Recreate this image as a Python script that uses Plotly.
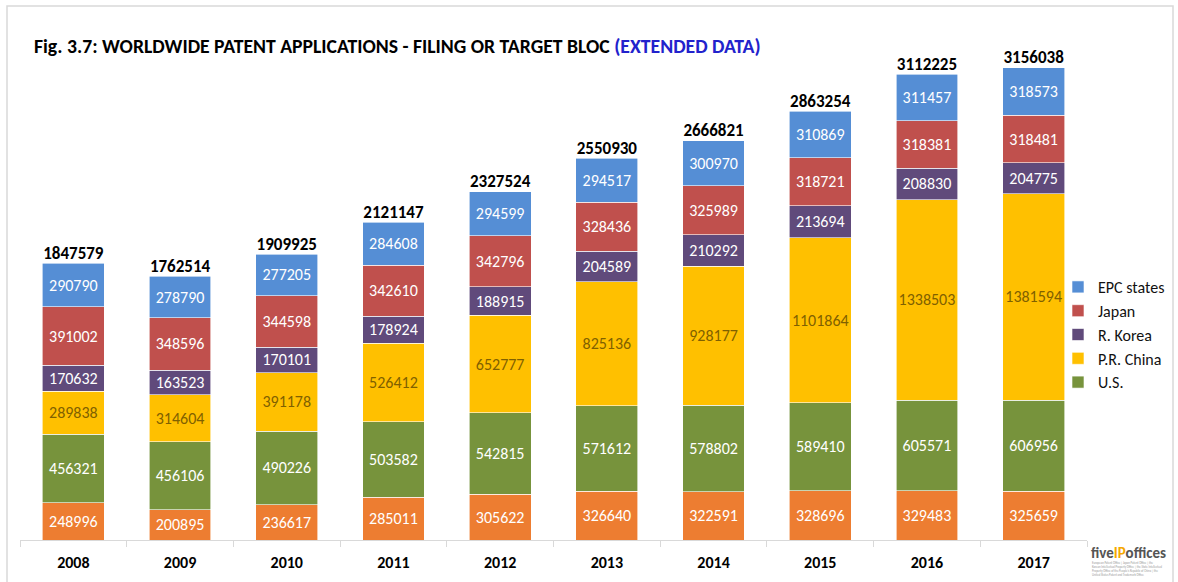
import plotly.graph_objects as go

# Worldwide patent applications by filing or target bloc, 2008-2017
years = ["2008", "2009", "2010", "2011", "2012", "2013", "2014", "2015", "2016", "2017"]
others = [248996, 200895, 236617, 285011, 305622, 326640, 322591, 328696, 329483, 325659]
us = [456321, 456106, 490226, 503582, 542815, 571612, 578802, 589410, 605571, 606956]
china = [289838, 314604, 391178, 526412, 652777, 825136, 928177, 1101864, 1338503, 1381594]
korea = [170632, 163523, 170101, 178924, 188915, 204589, 210292, 213694, 208830, 204775]
japan = [391002, 348596, 344598, 342610, 342796, 328436, 325989, 318721, 318381, 318481]
epc = [290790, 278790, 277205, 284608, 294599, 294517, 300970, 310869, 311457, 318573]

series = [
    ("Others", others, "#ED7D31", "white", False),
    ("U.S.", us, "#77933C", "white", True),
    ("P.R. China", china, "#FFC000", "#7F6000", True),
    ("R. Korea", korea, "#604A7B", "white", True),
    ("Japan", japan, "#C0504D", "white", True),
    ("EPC states", epc, "#558ED5", "white", True),
]

FONT = "Carlito, Lato, 'Open Sans', sans-serif"

W, H = 1178, 582
ML, MR, MT, MB = 20, 91, 16, 42
YMAX = 3500000

fig = go.Figure()
for name, vals, color, tcolor, show in series:
    fig.add_trace(go.Bar(
        x=years, y=vals, name=name, showlegend=show,
        marker=dict(color=color, line=dict(color="white", width=0.6)),
        text=[str(v) for v in vals], textposition="inside",
        insidetextanchor="middle", textangle=0, constraintext="none",
        textfont=dict(family=FONT, size=16, color=tcolor),
        hoverinfo="x+y+name",
    ))

# totals above each stack
totals = [sum(v) for v in zip(others, us, china, korea, japan, epc)]
fig.add_trace(go.Scatter(
    x=years, y=totals, mode="text", showlegend=False,
    text=[f"<b>{t}</b>" for t in totals], textposition="top center",
    textfont=dict(family=FONT, size=17, color="black"), hoverinfo="skip",
))

pw = W - ML - MR
ph = H - MT - MB

def px_x(x):
    return (x - ML) / pw

def px_y(y):
    return (H - MB - y) / ph

# title
fig.add_annotation(
    xref="paper", yref="paper", x=px_x(32), y=px_y(46),
    xanchor="left", yanchor="middle", showarrow=False,
    text="<b>Fig. 3.7: WORLDWIDE PATENT APPLICATIONS - FILING OR TARGET BLOC "
         "<span style='color:#2222CC'>(EXTENDED DATA)</span></b>",
    font=dict(family=FONT, size=19.7, color="black"),
)

# logo
fig.add_annotation(
    xref="paper", yref="paper", x=px_x(1089), y=px_y(553),
    xanchor="left", yanchor="middle", showarrow=False,
    text="<b><span style='color:#555555'>five</span><span style='color:#F5A800'>IP</span>"
         "<span style='color:#555555'>offices</span></b>",
    font=dict(family=FONT, size=15),
)
fig.add_annotation(
    xref="paper", yref="paper", x=px_x(1090), y=px_y(569),
    xanchor="left", yanchor="middle", showarrow=False, align="left",
    text="European Patent Office | Japan Patent Office | the<br>"
         "Korean Intellectual Property Office | the State Intellectual<br>"
         "Property Office of the People's Republic of China | the<br>"
         "United States Patent and Trademark Office",
    font=dict(family=FONT, size=3, color="#999999"),
)

# outer frame
fig.add_shape(type="rect", xref="paper", yref="paper",
              x0=px_x(7), x1=px_x(1173), y0=px_y(640), y1=px_y(6),
              line=dict(color="#D9D9D9", width=1.5), fillcolor="rgba(0,0,0,0)",
              layer="below")

fig.update_layout(
    width=W, height=H,
    barmode="stack", bargap=0.42,
    margin=dict(l=ML, r=MR, t=MT, b=MB, autoexpand=False),
    paper_bgcolor="white", plot_bgcolor="white",
    font=dict(family=FONT),
    legend=dict(traceorder="reversed", xref="container", yref="container",
                x=1058 / W, y=1 - 270 / H,
                xanchor="left", yanchor="top", bgcolor="rgba(0,0,0,0)",
                font=dict(family=FONT, size=16, color="#111111"),
                itemwidth=30, tracegroupgap=0),
    xaxis=dict(type="category", range=[-0.5, 9.5], showline=True,
               linecolor="#D9D9D9", linewidth=1,
               ticks="outside", tickson="boundaries", ticklen=6,
               tickcolor="#D9D9D9",
               tickfont=dict(family=FONT, size=16, color="black"),
               ticklabelstandoff=8,
               tickprefix="<b>", ticksuffix="</b>", showgrid=False,
               automargin=False),
    yaxis=dict(range=[0, YMAX], visible=False, showgrid=False),
    showlegend=True,
)

fig.write_html("out.html")
